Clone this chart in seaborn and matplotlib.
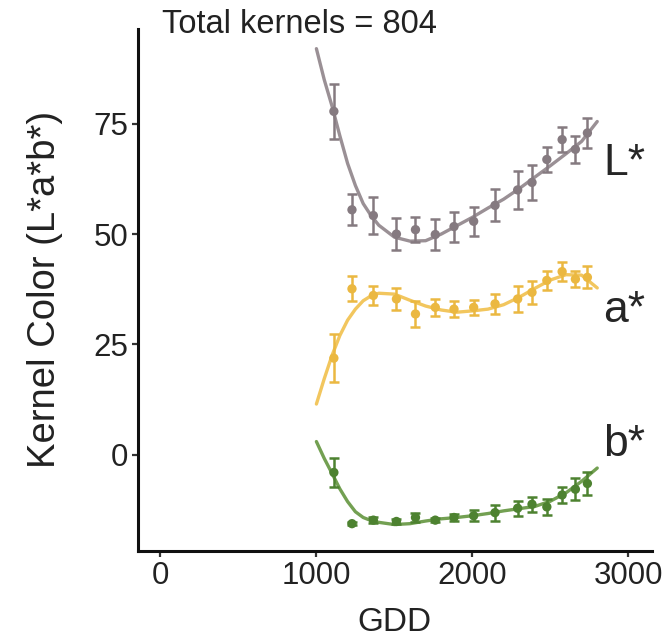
import matplotlib
matplotlib.use('Agg')

import matplotlib.pyplot as plt
import seaborn as sns
import pandas as pd

# measured kernel colour by growing degree days
gdd = [1112, 1228, 1365, 1513, 1635, 1762, 1882, 2008, 2145, 2290, 2382, 2477, 2575, 2660, 2737]
l_mean = [77.8, 55.5, 54.2, 50.0, 51.0, 49.9, 51.7, 52.9, 56.5, 60.0, 61.7, 66.9, 71.4, 69.2, 72.9]
l_err = [6.3, 3.5, 4.2, 3.6, 2.8, 3.5, 3.4, 3.3, 3.6, 4.3, 3.9, 2.9, 2.9, 3.1, 3.3]
a_mean = [21.9, 37.6, 36.1, 35.3, 31.9, 33.4, 33.0, 33.4, 34.2, 35.3, 36.8, 39.5, 41.5, 39.8, 40.2]
a_err = [5.5, 2.8, 2.1, 2.5, 3.0, 1.9, 1.8, 1.7, 2.3, 3.0, 2.6, 2.1, 2.1, 1.8, 2.5]
b_mean = [-4.0, -15.6, -14.8, -15.1, -14.2, -14.8, -14.2, -13.8, -13.1, -12.1, -11.2, -11.8, -9.1, -7.8, -6.5]
b_err = [3.2, 0.4, 0.6, 0.6, 1.0, 0.5, 0.8, 1.2, 1.8, 1.7, 1.7, 1.9, 1.8, 2.5, 2.5]

# smoothed fit
fit_gdd = [1000, 1050, 1100, 1150, 1200, 1250, 1300, 1350, 1400, 1500, 1600, 1700,
           1800, 1900, 2000, 2100, 2200, 2300, 2400, 2500, 2600, 2700, 2800]
l_fit = [92.0, 85.0, 79.0, 72.3, 66.0, 61.0, 56.9, 54.2, 52.0, 49.3, 48.4, 48.5,
         50.0, 51.9, 53.8, 55.9, 57.9, 60.3, 62.9, 65.5, 68.2, 71.0, 75.5]
a_fit = [11.5, 17.2, 22.5, 27.0, 30.5, 33.0, 34.9, 36.0, 36.6, 36.4, 35.0, 33.7,
         32.8, 32.3, 32.6, 33.0, 34.0, 35.7, 37.7, 39.6, 40.8, 40.7, 37.8]
b_fit = [3.0, -0.8, -4.2, -7.7, -10.6, -12.9, -14.2, -14.9, -15.3, -15.8, -15.6, -15.0,
         -14.5, -14.2, -13.8, -13.3, -12.7, -12.2, -11.7, -10.5, -8.6, -6.0, -3.0]

channels = ['L*', 'a*', 'b*']
point_colors = {'L*': '#857a80', 'a*': '#ebb841', 'b*': '#4d8230'}
line_colors = {'L*': '#9a9095', 'a*': '#f2c65e', 'b*': '#73a052'}

points = pd.DataFrame({
    'GDD': gdd * 3,
    'value': l_mean + a_mean + b_mean,
    'err': l_err + a_err + b_err,
    'channel': [c for c in channels for _ in gdd],
})
fits = pd.DataFrame({
    'GDD': fit_gdd * 3,
    'value': l_fit + a_fit + b_fit,
    'channel': [c for c in channels for _ in fit_gdd],
})

sns.set_theme(style='ticks')
plt.rcParams['font.family'] = ['Liberation Sans', 'DejaVu Sans']

fig = plt.figure(figsize=(6.72, 6.4), dpi=100)
ax = fig.add_axes([0.205, 0.139, 0.765, 0.816])

sns.lineplot(data=fits, x='GDD', y='value', hue='channel', palette=line_colors,
             linewidth=2.4, legend=False, ax=ax, zorder=2)

for c in channels:
    sub = points[points['channel'] == c]
    ax.errorbar(sub['GDD'], sub['value'], yerr=sub['err'], fmt='none',
                ecolor=point_colors[c], elinewidth=1.8, capsize=3.3,
                capthick=1.8, zorder=3)

sns.scatterplot(data=points, x='GDD', y='value', hue='channel', palette=point_colors,
                s=45, edgecolor='none', legend=False, ax=ax, zorder=4)

# channel labels at the right end of each curve
ax.text(2840, 63.4, 'L*', fontsize=32, va='baseline', ha='left')
ax.text(2840, 30.0, 'a*', fontsize=32, va='baseline', ha='left')
ax.text(2840, -0.2, 'b*', fontsize=32, va='baseline', ha='left')

ax.set_xlim(-145, 3150)
ax.set_ylim(-21.8, 96.5)
ax.set_xticks([0, 1000, 2000, 3000])
ax.set_yticks([0, 25, 50, 75])
ax.set_xlabel('GDD', fontsize=24, color='#222222', labelpad=12)
ax.set_ylabel('Kernel Color (L*a*b*)', fontsize=27.5, color='#222222', labelpad=22)
ax.tick_params(labelsize=22.5, length=4, width=1.6, color='#333333',
               labelcolor='#222222', pad=3)

sns.despine(ax=ax)
for side in ['left', 'bottom']:
    ax.spines[side].set_linewidth(2.2)
    ax.spines[side].set_color('#111111')

fig.text(162 / 672, 1 - 33 / 640, 'Total kernels = 804', fontsize=23.5,
         color='#222222', va='baseline', ha='left')

plt.savefig('out.png', dpi=100)
plt.close()
